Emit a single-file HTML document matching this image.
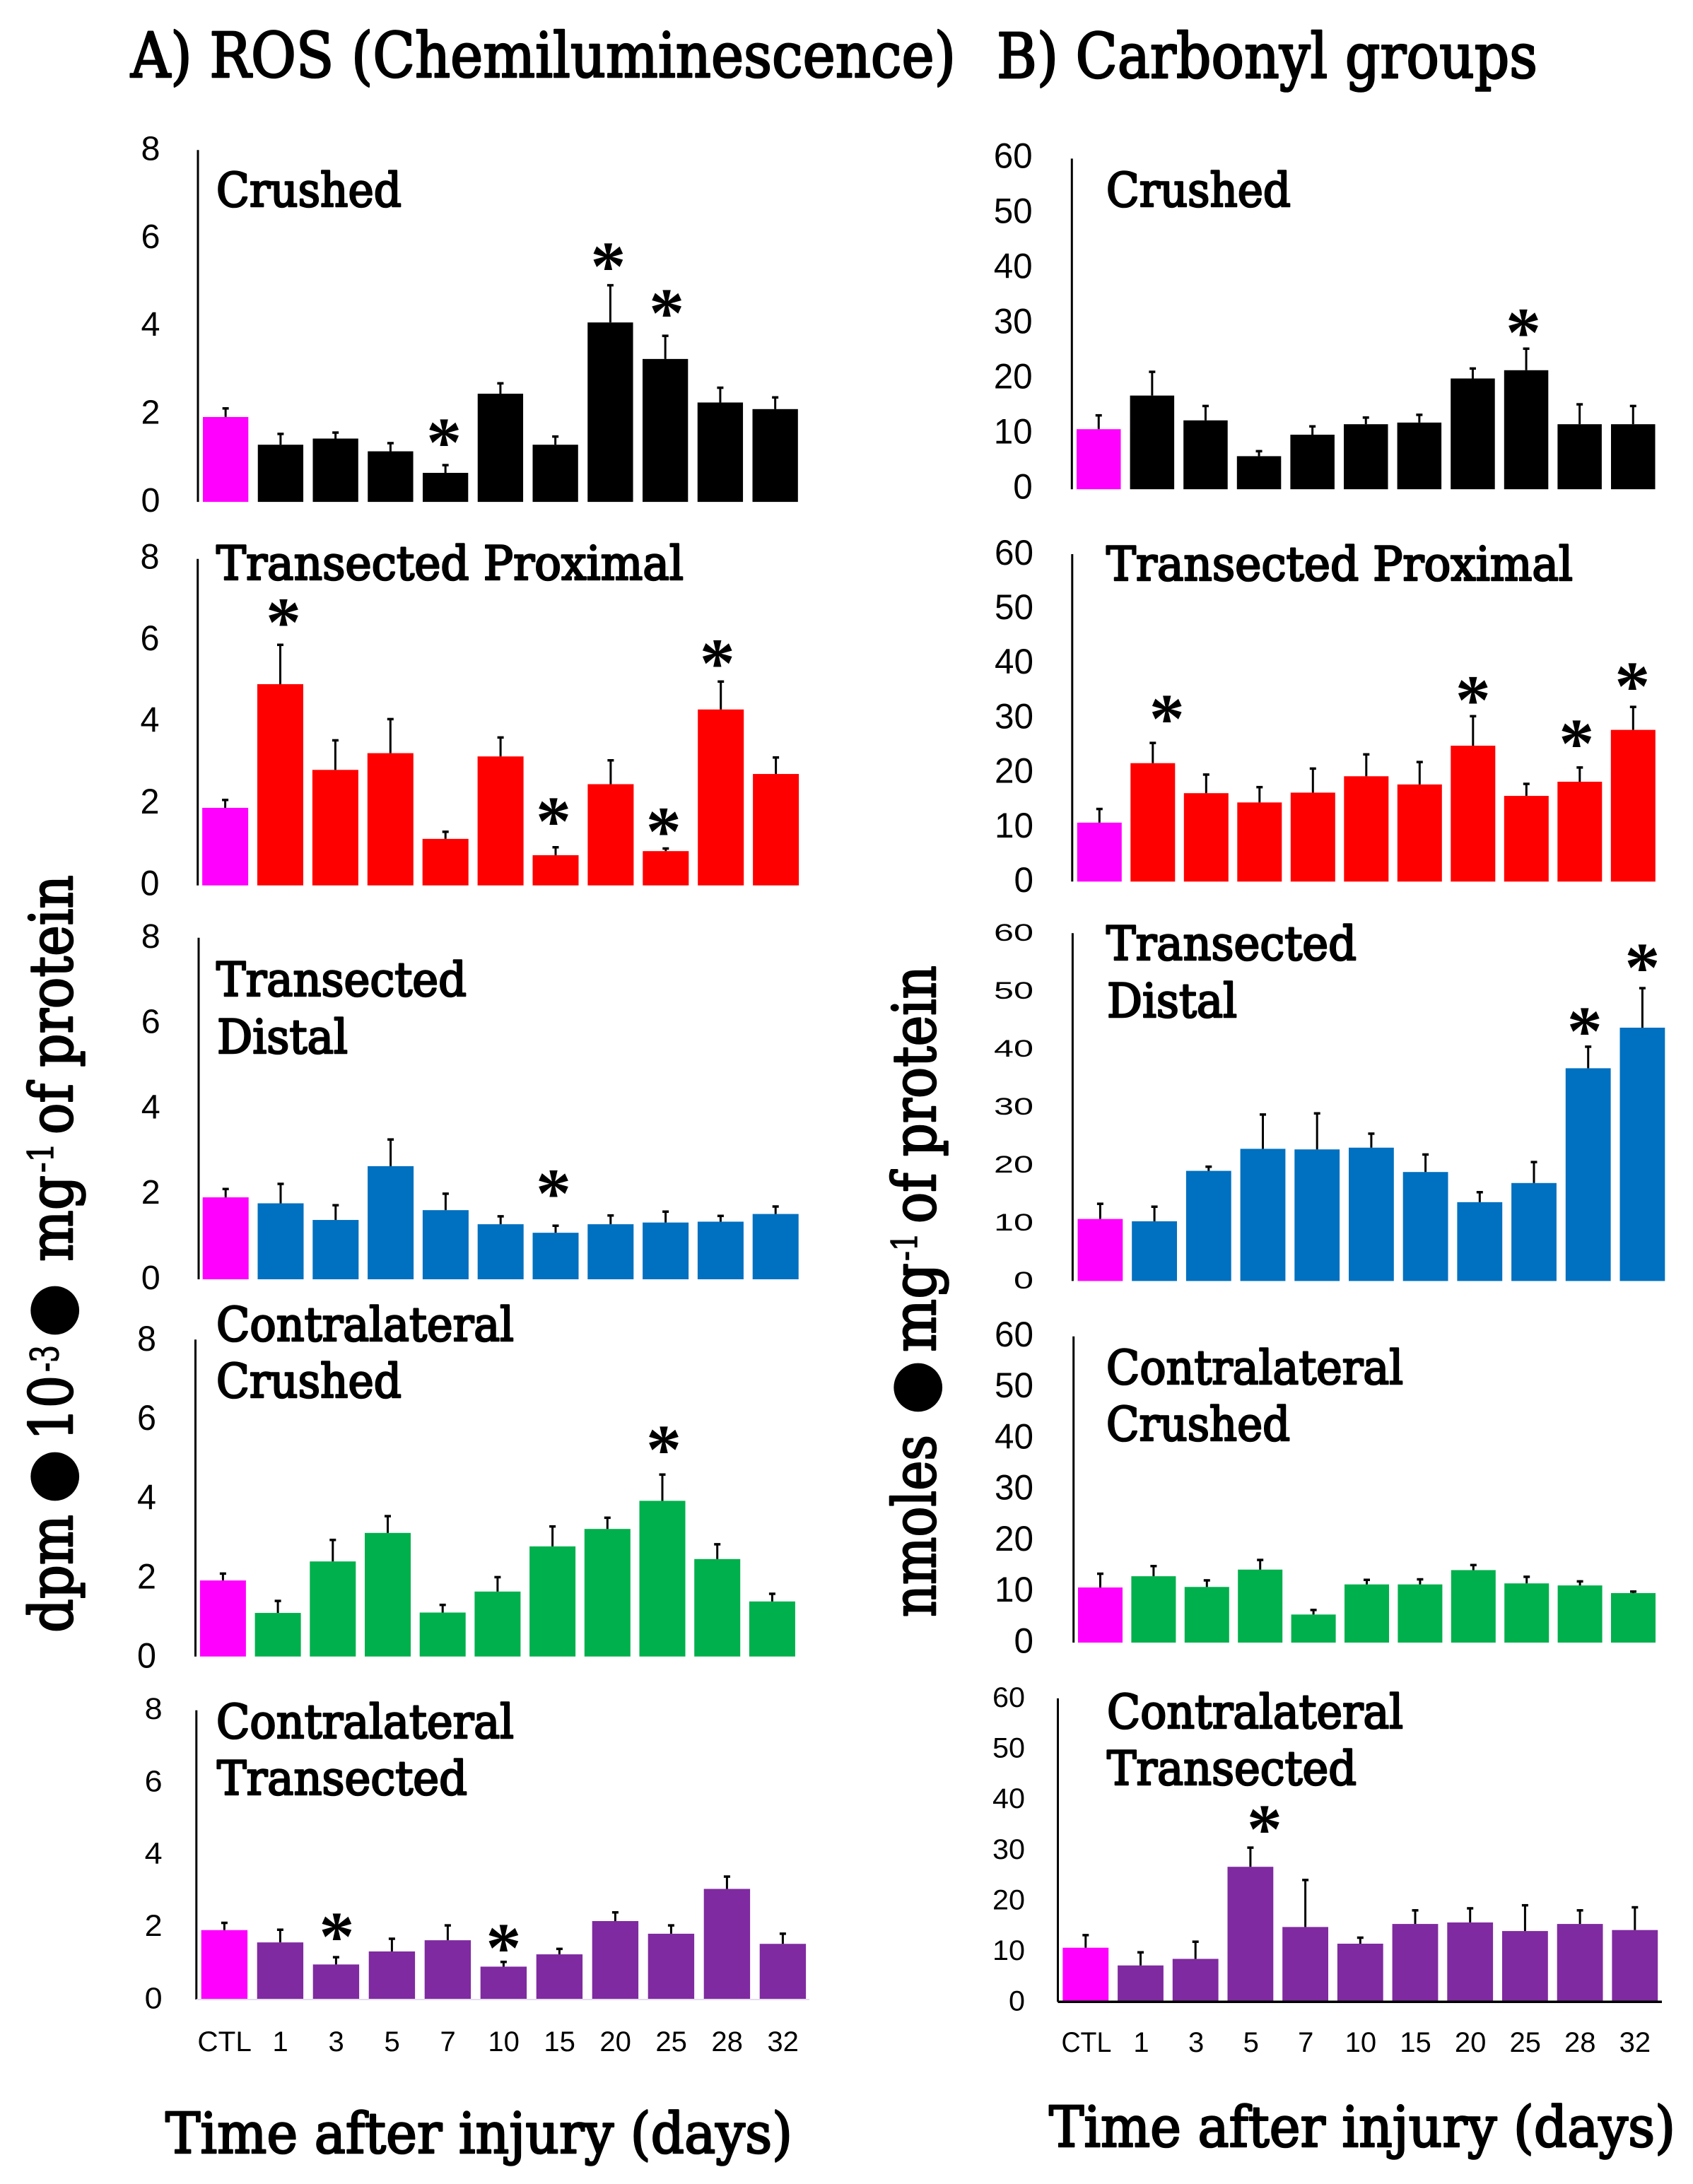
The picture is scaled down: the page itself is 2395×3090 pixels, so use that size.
<!DOCTYPE html>
<html lang="en">
<head>
<meta charset="utf-8">
<title>ROS and carbonyl groups after nerve injury</title>
<style>
html,body{margin:0;padding:0;background:#fff;width:2395px;height:3090px;overflow:hidden}
svg{display:block}
.head{font-family:"DejaVu Serif","Liberation Serif",serif;fill:#000;stroke:#000;stroke-width:2.6px;stroke-linejoin:round}
.sup{font-family:"DejaVu Serif","Liberation Serif",serif;fill:#000;stroke:#000;stroke-width:1.4px}
.dot{font-family:"DejaVu Sans",sans-serif;fill:#000;text-anchor:middle}
</style>
</head>
<body>
<svg id="chart" xmlns="http://www.w3.org/2000/svg" width="2395" height="3090" viewBox="0 0 2395 3090">
<rect width="2395" height="3090" fill="#fff"/>

<text class="head" x="185" y="109" font-size="88" textLength="1167" lengthAdjust="spacingAndGlyphs">A) ROS (Chemiluminescence)</text>
<text class="head" x="1410" y="110" font-size="88" textLength="765" lengthAdjust="spacingAndGlyphs">B) Carbonyl groups</text>

<text class="head" x="306" y="292" font-size="66" textLength="262" lengthAdjust="spacingAndGlyphs">Crushed</text>
<text class="head" x="306" y="820" font-size="66" textLength="661" lengthAdjust="spacingAndGlyphs">Transected Proximal</text>
<text class="head" x="306" y="1409" font-size="66" textLength="354" lengthAdjust="spacingAndGlyphs">Transected</text>
<text class="head" x="307" y="1490" font-size="66" textLength="185" lengthAdjust="spacingAndGlyphs">Distal</text>
<text class="head" x="306" y="1897" font-size="66" textLength="421" lengthAdjust="spacingAndGlyphs">Contralateral</text>
<text class="head" x="306" y="1977" font-size="66" textLength="262" lengthAdjust="spacingAndGlyphs">Crushed</text>
<text class="head" x="306" y="2459" font-size="66" textLength="421" lengthAdjust="spacingAndGlyphs">Contralateral</text>
<text class="head" x="307" y="2539" font-size="66" textLength="354" lengthAdjust="spacingAndGlyphs">Transected</text>

<text class="head" x="1565" y="292" font-size="66" textLength="261" lengthAdjust="spacingAndGlyphs">Crushed</text>
<text class="head" x="1565" y="821" font-size="66" textLength="660" lengthAdjust="spacingAndGlyphs">Transected Proximal</text>
<text class="head" x="1565" y="1358" font-size="66" textLength="354" lengthAdjust="spacingAndGlyphs">Transected</text>
<text class="head" x="1566" y="1439" font-size="66" textLength="184" lengthAdjust="spacingAndGlyphs">Distal</text>
<text class="head" x="1565" y="1958" font-size="66" textLength="420" lengthAdjust="spacingAndGlyphs">Contralateral</text>
<text class="head" x="1565" y="2038" font-size="66" textLength="260" lengthAdjust="spacingAndGlyphs">Crushed</text>
<text class="head" x="1566" y="2445" font-size="66" textLength="419" lengthAdjust="spacingAndGlyphs">Contralateral</text>
<text class="head" x="1566" y="2525" font-size="66" textLength="353" lengthAdjust="spacingAndGlyphs">Transected</text>

<text class="head" x="234" y="3046" font-size="80" textLength="887" lengthAdjust="spacingAndGlyphs">Time after injury (days)</text>
<text class="head" x="1484" y="3037" font-size="80" textLength="886" lengthAdjust="spacingAndGlyphs">Time after injury (days)</text>

<g>
  <text class="head" font-size="84" textLength="167" lengthAdjust="spacingAndGlyphs" transform="translate(102,2310) rotate(-90)">dpm</text>
  <text class="dot" font-size="90" transform="translate(101,2089) rotate(-90)">●</text>
  <text class="head" font-size="84" textLength="92" lengthAdjust="spacingAndGlyphs" transform="translate(102,2038) rotate(-90)">10</text>
  <text class="sup" font-size="54" textLength="38" lengthAdjust="spacingAndGlyphs" transform="translate(82,1941) rotate(-90)">-3</text>
  <text class="dot" font-size="90" transform="translate(101,1854) rotate(-90)">●</text>
  <text class="head" font-size="84" textLength="122" lengthAdjust="spacingAndGlyphs" transform="translate(102,1785) rotate(-90)">mg</text>
  <text class="sup" font-size="50" textLength="42" lengthAdjust="spacingAndGlyphs" transform="translate(75,1659) rotate(-90)">-1</text>
  <text class="head" font-size="84" textLength="367" lengthAdjust="spacingAndGlyphs" transform="translate(102,1605) rotate(-90)">of protein</text>
</g>

<g>
  <text class="head" font-size="84" textLength="258" lengthAdjust="spacingAndGlyphs" transform="translate(1323,2288) rotate(-90)">nmoles</text>
  <text class="dot" font-size="90" transform="translate(1322,1963) rotate(-90)">●</text>
  <text class="head" font-size="84" textLength="126" lengthAdjust="spacingAndGlyphs" transform="translate(1323,1913) rotate(-90)">mg</text>
  <text class="sup" font-size="50" textLength="40" lengthAdjust="spacingAndGlyphs" transform="translate(1297,1784) rotate(-90)">-1</text>
  <text class="head" font-size="84" textLength="365" lengthAdjust="spacingAndGlyphs" transform="translate(1323,1731) rotate(-90)">of protein</text>
</g>

<g id="marks"></g>
</svg>

<script>
// ---- Data ----
const categories = ['CTL','1','3','5','7','10','15','20','25','28','32'];
const rosTicks = [0,2,4,6,8];
const carbonylTicks = [0,10,20,30,40,50,60];

const rosCrushed = [1.93,1.30,1.44,1.15,0.66,2.46,1.30,4.08,3.25,2.26,2.11];
const rosCrushedUpper = [2.15,1.57,1.60,1.36,0.86,2.72,1.51,4.95,3.80,2.62,2.40];
const rosCrushedStars = [4,7,8];

const rosProximal = [1.90,4.93,2.83,3.24,1.14,3.16,0.74,2.48,0.84,4.31,2.73];
const rosProximalUpper = [2.12,5.92,3.58,4.10,1.34,3.65,0.96,3.09,0.93,5.02,3.16];
const rosProximalStars = [1,6,8,9];

const rosDistal = [1.92,1.78,1.39,2.65,1.62,1.29,1.09,1.29,1.33,1.35,1.53];
const rosDistalUpper = [2.14,2.26,1.76,3.30,2.03,1.50,1.28,1.52,1.61,1.51,1.73];
const rosDistalStars = [6];

const rosContraCrushed = [1.92,1.10,2.40,3.12,1.11,1.64,2.78,3.22,3.93,2.46,1.39];
const rosContraCrushedUpper = [2.12,1.43,2.97,3.57,1.33,2.03,3.31,3.53,4.62,2.86,1.61];
const rosContraCrushedStars = [8];

const rosContraTransected = [1.92,1.58,0.97,1.33,1.64,0.91,1.25,2.17,1.82,3.06,1.54];
const rosContraTransectedUpper = [2.15,1.96,1.20,1.71,2.08,1.07,1.43,2.44,2.08,3.43,1.85];
const rosContraTransectedStars = [2,5];

const carbCrushed = [10.9,17.0,12.5,6.0,9.9,11.8,12.1,20.1,21.6,11.8,11.8];
const carbCrushedUpper = [13.6,21.5,15.3,7.1,11.6,13.2,13.7,22.1,25.7,15.6,15.3];
const carbCrushedStars = [8];

const carbProximal = [10.8,21.7,16.2,14.5,16.3,19.3,17.8,24.9,15.7,18.3,27.8];
const carbProximalUpper = [13.5,25.6,19.8,17.5,20.9,23.5,22.1,30.5,18.1,21.1,32.2];
const carbProximalStars = [1,7,9,10];

const carbDistal = [10.7,10.3,19.0,22.8,22.7,23.0,18.8,13.6,16.9,36.7,43.7];
const carbDistalUpper = [13.5,13.0,19.9,28.9,29.1,25.6,22.0,15.5,20.7,40.6,50.7];
const carbDistalStars = [9,10];

const carbContraCrushed = [10.8,13.0,10.9,14.3,5.5,11.4,11.4,14.2,11.6,11.2,9.7];
const carbContraCrushedUpper = [13.7,15.2,12.4,16.4,6.6,12.5,12.6,15.4,13.1,12.2,10.2];
const carbContraCrushedStars = [];

const carbContraTransected = [10.7,7.2,8.5,26.7,14.8,11.5,15.4,15.7,14.0,15.4,14.2];
const carbContraTransectedUpper = [13.4,10.0,12.1,30.7,24.3,12.9,18.3,18.7,19.3,18.3,18.9];
const carbContraTransectedStars = [3];

// ---- Panel layout (geometry lives here, values above) ----
const ROS_MAX = 8, CARB_MAX = 60;
const CONTROL_COLOR = '#ff00ff';
const panels = [
 {id:'ros-crushed',values:rosCrushed,upper:rosCrushedUpper,stars:rosCrushedStars,ticks:rosTicks,max:ROS_MAX,color:'#000000',axisX:280,top:212.3,bottom:710.1,barX:287,pitch:77.75,barW:64.3,tickRight:226.5,tickFs:48,digitW:27,tickDy:-3,starGap:[23,17.5,23],starDx:[-2,-3,2]},
 {id:'ros-transected-proximal',values:rosProximal,upper:rosProximalUpper,stars:rosProximalStars,ticks:rosTicks,max:ROS_MAX,color:'#ff0000',axisX:279.7,top:790.7,bottom:1252.7,barX:286.1,pitch:77.9,barW:65,tickRight:225.5,tickFs:50,digitW:27,tickDy:-4,starGap:[23,28,15,17],starDx:[4.5,-3,-3,-5]},
 {id:'ros-transected-distal',values:rosDistal,upper:rosDistalUpper,stars:rosDistalStars,ticks:rosTicks,max:ROS_MAX,color:'#0070c0',axisX:281,top:1326.8,bottom:1810,barX:286.7,pitch:77.8,barW:65,tickRight:226.8,tickFs:48,digitW:27,tickDy:-3,starGap:[36.7],starDx:[-3]},
 {id:'ros-contralateral-crushed',values:rosContraCrushed,upper:rosContraCrushedUpper,stars:rosContraCrushedStars,ticks:rosTicks,max:ROS_MAX,color:'#00b04c',axisX:276.5,top:1895.3,bottom:2343.7,barX:282.9,pitch:77.7,barW:65,tickRight:221,tickFs:50,digitW:27,tickDy:-2,starGap:[26],starDx:[2]},
 {id:'ros-contralateral-transected',values:rosContraTransected,upper:rosContraTransectedUpper,stars:rosContraTransectedStars,ticks:rosTicks,max:ROS_MAX,color:'#7f2aa0',axisX:277.8,top:2419.8,bottom:2829,barX:284.7,pitch:79,barW:65.4,tickRight:229.6,tickFs:43,digitW:25,tickDy:-3,starGap:[20,11],starDx:[1,0],baseline:{color:'#e6dcef',w:2,end:1145},
  cats:{center:317.6,pitch:79,y:2902,fs:40,ctlW:76.5}},
 {id:'carbonyl-crushed',values:carbCrushed,upper:carbCrushedUpper,stars:carbCrushedStars,ticks:carbonylTicks,max:CARB_MAX,color:'#000000',axisX:1516.3,top:224.4,bottom:692.2,barX:1523,pitch:75.6,barW:62.5,tickRight:1460.7,tickFs:50,digitW:27.5,tickDy:-4.5,starGap:[14],starDx:[-4]},
 {id:'carbonyl-transected-proximal',values:carbProximal,upper:carbProximalUpper,stars:carbProximalStars,ticks:carbonylTicks,max:CARB_MAX,color:'#ff0000',axisX:1516.8,top:784,bottom:1247.3,barX:1523.8,pitch:75.5,barW:63,tickRight:1462,tickFs:50,digitW:27.5,tickDy:-3,starGap:[25,14,25,20],starDx:[20,0,-4.5,-1]},
 {id:'carbonyl-transected-distal',values:carbDistal,upper:carbDistalUpper,stars:carbDistalStars,ticks:carbonylTicks,max:CARB_MAX,color:'#0070c0',axisX:1517.4,top:1320.3,bottom:1812.4,barX:1524.5,pitch:76.7,barW:63.8,tickRight:1462,tickFs:34.5,digitW:28,tickDy:-1.5,starGap:[13,20],starDx:[-5,0]},
 {id:'carbonyl-contralateral-crushed',values:carbContraCrushed,upper:carbContraCrushedUpper,stars:carbContraCrushedStars,ticks:carbonylTicks,max:CARB_MAX,color:'#00b04c',axisX:1518.7,top:1890.7,bottom:2324,barX:1525,pitch:75.4,barW:63,tickRight:1462,tickFs:50,digitW:27.5,tickDy:-3.5,starGap:[],starDx:[]},
 {id:'carbonyl-contralateral-transected',values:carbContraTransected,upper:carbContraTransectedUpper,stars:carbContraTransectedStars,ticks:carbonylTicks,max:CARB_MAX,color:'#7f2aa0',axisX:1496.5,top:2402.9,bottom:2832.3,barX:1503.4,pitch:77.7,barW:64.8,tickRight:1450,tickFs:40,digitW:23,tickDy:-2,starGap:[17],starDx:[20],baseline:{color:'#000000',w:3.5,end:2351},
  cats:{center:1536.9,pitch:77.6,y:2903,fs:40,ctlW:70.9}}
];

const NS = 'http://www.w3.org/2000/svg';
const root = document.getElementById('marks');

function svgEl(tag, parent){
  const el = document.createElementNS(NS, tag);
  parent.appendChild(el);
  return el;
}
function setProps(el, props){
  for (const k in props) el.setAttribute(k, props[k]);
}

panels.forEach(function(p){
  const xBand = function(i){ return p.barX + i * p.pitch; };
  const xCenter = function(i){ return xBand(i) + p.barW / 2; };
  const yScale = function(v){ return p.bottom - (v / p.max) * (p.bottom - p.top); };

  const g = svgEl('g', root);
  
  

  // y axis line
  const axis = svgEl('line', g);
  
  
  setProps(axis, {x1:p.axisX, x2:p.axisX, y1:p.top, y2:p.bottom, stroke:'#000', 'stroke-width':3});

  // y tick labels
  p.ticks.forEach(function(t){
    const s = String(t);
    const label = svgEl('text', g);
    
    
    const w = s.length * p.digitW;
    setProps(label, {x:p.tickRight - w, y:yScale(t) + p.tickDy + p.tickFs * 0.355,
      'font-family':'"Liberation Sans", sans-serif', 'font-size':p.tickFs, fill:'#000',
      textLength:w, lengthAdjust:'spacingAndGlyphs'});
    label.textContent = s;
  });

  // bars and error bars
  p.values.forEach(function(v, i){
    const bar = svgEl('rect', g);
    
    
    setProps(bar, {x:xBand(i), y:yScale(v), width:p.barW, height:yScale(0) - yScale(v),
      fill:i === 0 ? CONTROL_COLOR : p.color});

    const stem = svgEl('line', g);
    
    
    setProps(stem, {x1:xCenter(i), x2:xCenter(i), y1:yScale(v), y2:yScale(p.upper[i]), stroke:'#000', 'stroke-width':3});

    const cap = svgEl('line', g);
    
    
    setProps(cap, {x1:xCenter(i) - 4.5, x2:xCenter(i) + 4.5, y1:yScale(p.upper[i]) + 1.5, y2:yScale(p.upper[i]) + 1.5, stroke:'#000', 'stroke-width':3.5});
  });

  // optional baseline
  if (p.baseline) {
    const base = svgEl('line', g);
    
    
    setProps(base, {x1:p.axisX, x2:p.baseline.end, y1:p.bottom, y2:p.bottom, stroke:p.baseline.color, 'stroke-width':p.baseline.w});
  }

  // significance stars
  p.stars.forEach(function(idx, n){
    const star = svgEl('text', g);
    
    
    const cy = yScale(p.upper[idx]) - p.starGap[n] - 20.5;
    setProps(star, {x:xCenter(idx) + p.starDx[n], y:cy + 46, 'text-anchor':'middle',
      'font-family':'"Liberation Serif", serif', 'font-weight':'bold', 'font-size':100, fill:'#000'});
    star.textContent = '*';
  });

  // category labels
  if (p.cats) {
    categories.forEach(function(c, i){
      const cat = svgEl('text', g);
      
      
      setProps(cat, {x:p.cats.center + i * p.cats.pitch, y:p.cats.y, 'text-anchor':'middle',
        'font-family':'"Liberation Sans", sans-serif', 'font-size':p.cats.fs, fill:'#000'});
      if (i === 0) setProps(cat, {textLength:p.cats.ctlW, lengthAdjust:'spacingAndGlyphs'});
      cat.textContent = c;
    });
  }
});
</script>
</body>
</html>
